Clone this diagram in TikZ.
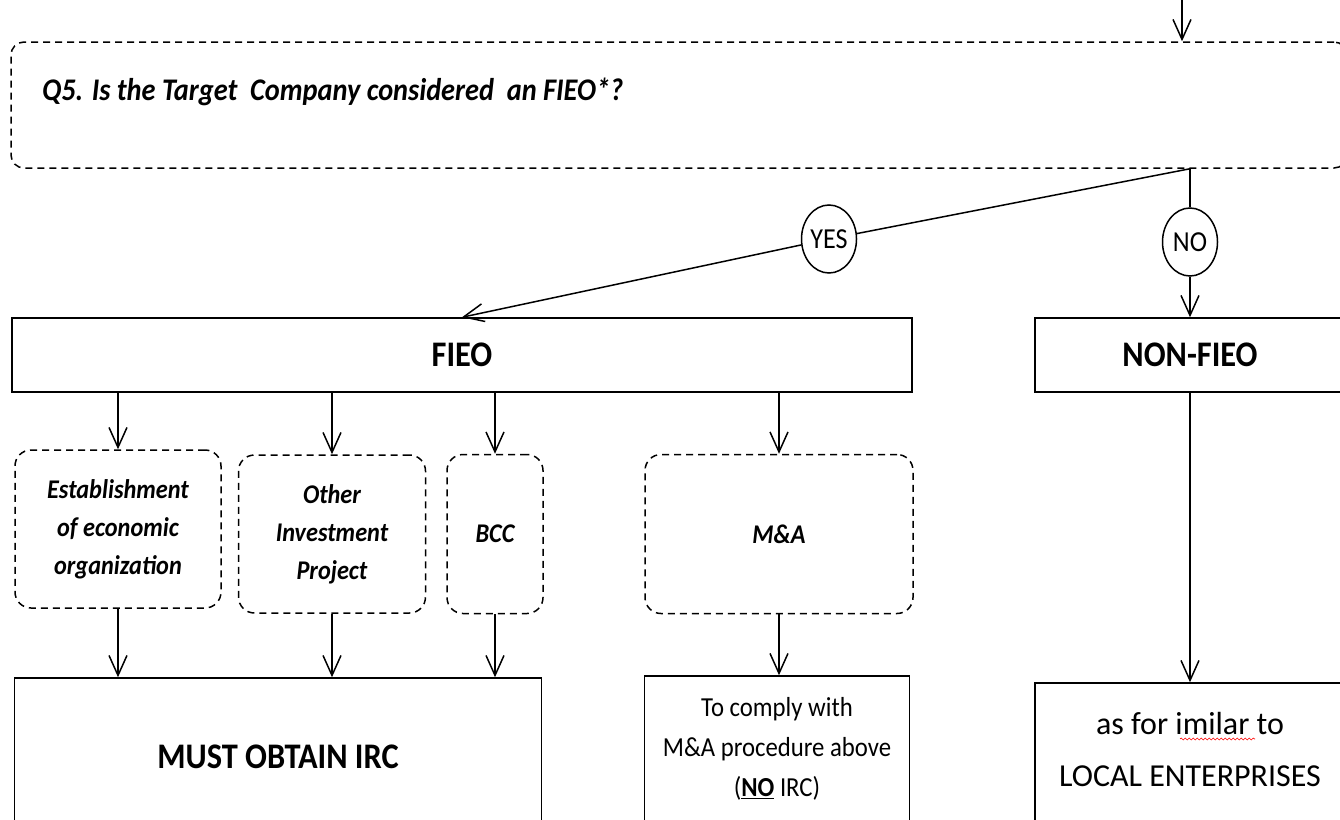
\documentclass[tikz,border=0pt]{standalone}
\usepackage{fontspec}
\setmainfont[FakeStretch=0.9]{Carlito}
\newfontfamily\plainfont{Carlito}
\usetikzlibrary{arrows.meta, positioning, shapes.geometric, decorations.pathmorphing}

\begin{document}
\begin{tikzpicture}[x=1pt, y=-1pt, >={Straight Barb[length=20pt,width=18pt]}, line width=1.5pt]
  \tikzset{
    dashbox/.style={
      draw,
      dash pattern=on 7pt off 5pt,
      rounded corners=16pt,
      align=center,
      font=\fontsize{27}{38}\selectfont\bfseries\itshape},
    solidbox/.style={
      draw,
      align=center},
    answer/.style={
      draw,
      ellipse,
      fill=white,
      inner sep=0pt,
      minimum width=55pt,
      minimum height=68pt,
      font=\fontsize{29}{32}\selectfont},
    spellwave/.style={
      draw=red,
      line width=0.6pt,
      decorate,
      decoration={snake, amplitude=1pt, segment length=4pt}}}

  \useasboundingbox (0,0) rectangle (1340,819);

  % question box
  \node[dashbox, rounded corners=13pt, minimum width=1336pt, minimum height=126pt] (q5) at (679,105) {};
  \node[anchor=west, font=\fontsize{31.5}{36}\selectfont\bfseries\itshape] (q5txt) at (38,92) {Q5. Is the Target~ Company considered~ an FIEO*?};

  \node[solidbox, minimum width=900pt, minimum height=74pt, font=\fontsize{36}{40}\selectfont\bfseries] (fieo) at (462,355) {FIEO};
  \node[solidbox, minimum width=310pt, minimum height=74pt, font=\fontsize{36}{40}\selectfont\bfseries] (nonfieo) at (1190,355) {NON-FIEO};

  \node[answer] (yes) at (829,239) {YES};
  \node[answer] (no) at (1190,242) {NO};
  \coordinate (split) at (q5.south -| no);
  \coordinate (entry) at (1182,0);

  % kinds of investment
  \node[dashbox, minimum width=206pt, minimum height=158pt] (estab) at (118,529) {Establishment\\of economic\\organization};
  \node[dashbox, minimum width=187pt, minimum height=158pt] (other) at (332,534) {Other\\Investment\\Project};
  \node[dashbox, minimum width=96pt, minimum height=159pt] (bcc) at (495,534) {BCC};
  \node[dashbox, minimum width=268pt, minimum height=159pt] (mna) at (779,534) {M\&A};

  % outcomes
  \node[solidbox, minimum width=527pt, minimum height=158pt, font=\fontsize{36}{40}\selectfont\bfseries] (irc) at (278,757) {MUST OBTAIN IRC};
  \node[solidbox, minimum width=265pt, minimum height=146pt, font=\fontsize{27.5}{40}\selectfont] (comply) at (777,749) {To comply with\\M\&A procedure above\\(\textbf{\underline{NO}} IRC)};
  \node[solidbox, minimum width=310pt, minimum height=168pt] (local) at (1190,767) {};
  \node[align=center, font=\plainfont\fontsize{32}{52}\selectfont] (localtxt) at (1190,749) {as for imilar to\\LOCAL ENTERPRISES};
  \draw[spellwave] ([xshift=-10pt, yshift=10pt]localtxt.center) -- ++(75,0);

  \draw[->] (entry) -- (entry |- q5.north);
  \path (split) edge (yes);
  \path[->] (yes) edge (fieo.north);
  \path (split) edge (no);
  \path[->] (no) edge (nonfieo);
  \path[->] (nonfieo) edge (local);

  \foreach \sub in {estab, other, bcc, mna}
    \draw[->] (fieo.south -| \sub.north) -- (\sub.north);
  \foreach \sub in {estab, other, bcc}
    \draw[->] (\sub.south) -- (irc.north -| \sub.south);
  \draw[->] (mna.south) -- (comply.north -| mna.south);

\end{tikzpicture}
\end{document}
